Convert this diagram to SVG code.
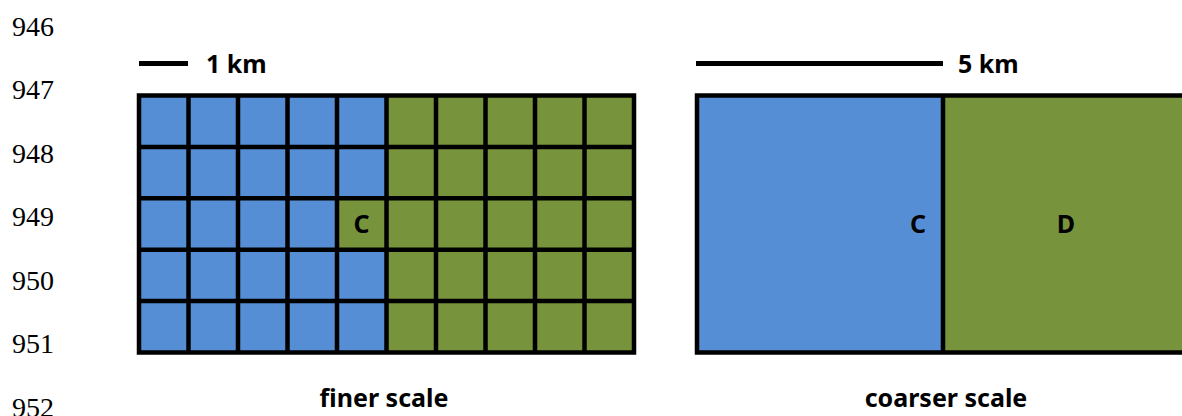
<svg xmlns="http://www.w3.org/2000/svg" width="1182" height="416" viewBox="0 0 1182 416">
<style>
.ln{font-family:"Liberation Serif","Times New Roman",serif;font-size:28px;fill:#000}
.lb{font-family:"Noto Sans","Open Sans",sans-serif;font-weight:bold;font-size:25px;fill:#000}
.grid{stroke:#000;stroke-width:4.5;fill:none;stroke-linecap:square}
.blue{fill:#558ED5}
.green{fill:#77933C}
</style>
<rect width="1182" height="416" fill="#fff"/>
<g id="line-numbers">
<text class="ln" x="12" y="35.5">946</text>
<text class="ln" x="12" y="99">947</text>
<text class="ln" x="12" y="162.5">948</text>
<text class="ln" x="12" y="226">949</text>
<text class="ln" x="12" y="289.5">950</text>
<text class="ln" x="12" y="353">951</text>
<text class="ln" x="12" y="416.5">952</text>
</g>
<g id="fine-grid">
<rect class="green" x="139" y="95.5" width="495" height="257"/>
<rect class="blue" x="139" y="95.5" width="247.5" height="257"/>
<rect class="green" x="337.5" y="198.3" width="49.5" height="51.4"/>
<path class="grid" d="M139,95.5H634V352.5H139Z M188.5,95.5V352.5 M238,95.5V352.5 M287.5,95.5V352.5 M337,95.5V352.5 M386.5,95.5V352.5 M436,95.5V352.5 M485.5,95.5V352.5 M535,95.5V352.5 M584.5,95.5V352.5 M139,146.9H634 M139,198.3H634 M139,249.7H634 M139,301.1H634"/>
<text class="lb" x="361.5" y="233" text-anchor="middle">C</text>
</g>
<g id="coarse-grid">
<rect class="blue" x="697" y="95.5" width="246" height="257"/>
<rect class="green" x="943" y="95.5" width="250" height="257"/>
<path class="grid" d="M1195,95.5H697V352.5H1195 M943,95.5V352.5"/>
<text class="lb" x="918" y="233" text-anchor="middle">C</text>
<text class="lb" x="1066" y="233" text-anchor="middle">D</text>
</g>
<g id="scale-bars">
<line x1="139" y1="63.5" x2="188" y2="63.5" stroke="#000" stroke-width="5"/>
<text class="lb" x="206" y="72.5">1 km</text>
<line x1="696" y1="63.5" x2="943" y2="63.5" stroke="#000" stroke-width="5"/>
<text class="lb" x="958" y="72.5">5 km</text>
</g>
<g id="captions">
<text class="lb" x="384" y="406.5" text-anchor="middle">finer scale</text>
<text class="lb" x="946" y="406.5" text-anchor="middle">coarser scale</text>
</g>
</svg>
